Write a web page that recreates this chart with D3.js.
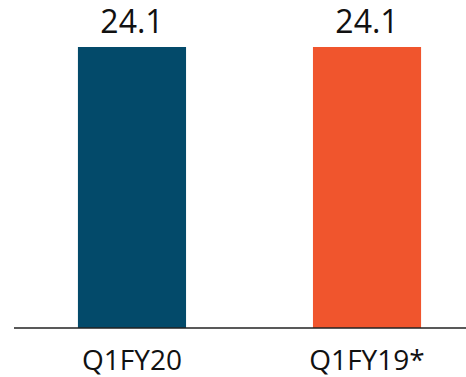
<!DOCTYPE html>
<html>
<head>
<meta charset="utf-8">
<script src="https://cdn.jsdelivr.net/npm/d3@7"></script>
<style>
  html, body { margin: 0; padding: 0; background: #fff; }
  svg { display: block; }
  text { font-family: "Open Sans", sans-serif; fill: #111; }
</style>
</head>
<body>
<svg id="chart" width="466" height="377"></svg>
<script>
// Quarterly comparison values
const categories = ["Q1FY20", "Q1FY19*"];
const values = [24.1, 24.1];
const valueLabels = ["24.1", "24.1"];
const colors = ["#034a6a", "#f0552d"];

const W = 466, H = 377;
const baseY = 328, topY = 47;
const axisLeft = 14;

const svg = d3.select("#chart");

const x = d3.scaleBand()
  .domain(categories)
  .range([axisLeft, 485])
  .paddingInner(0.54)
  .paddingOuter(0.272);

const y = d3.scaleLinear()
  .domain([0, d3.max(values)])
  .range([baseY, topY]);

const data = categories.map((c, i) => ({ c, v: values[i], label: valueLabels[i], color: colors[i] }));

svg.selectAll("rect.bar")
  .data(data)
  .join("rect")
  .attr("class", "bar")
  .attr("x", d => x(d.c))
  .attr("y", d => y(d.v))
  .attr("width", x.bandwidth())
  .attr("height", d => baseY - y(d.v))
  .attr("fill", d => d.color);

// Value labels above bars
svg.selectAll("text.val")
  .data(data)
  .join("text")
  .attr("class", "val")
  .attr("x", d => x(d.c) + x.bandwidth() / 2)
  .attr("y", d => y(d.v) - 14)
  .attr("text-anchor", "middle")
  .style("font-size", "32px")
  .text(d => d.label);

// Baseline axis
const axis = d3.axisBottom(x).tickSize(0).tickPadding(22);
const g = svg.append("g")
  .attr("transform", `translate(0,${baseY})`)
  .call(axis);
g.select(".domain").remove();
g.append("line")
  .attr("x1", axisLeft).attr("x2", W)
  .attr("y1", 0).attr("y2", 0)
  .attr("stroke", "#222")
  .attr("stroke-width", 1.5);
g.selectAll(".tick text")
  .style("font-size", "28px")
  .style("font-family", "'Open Sans', sans-serif")
  .attr("fill", "#111");
</script>
</body>
</html>
